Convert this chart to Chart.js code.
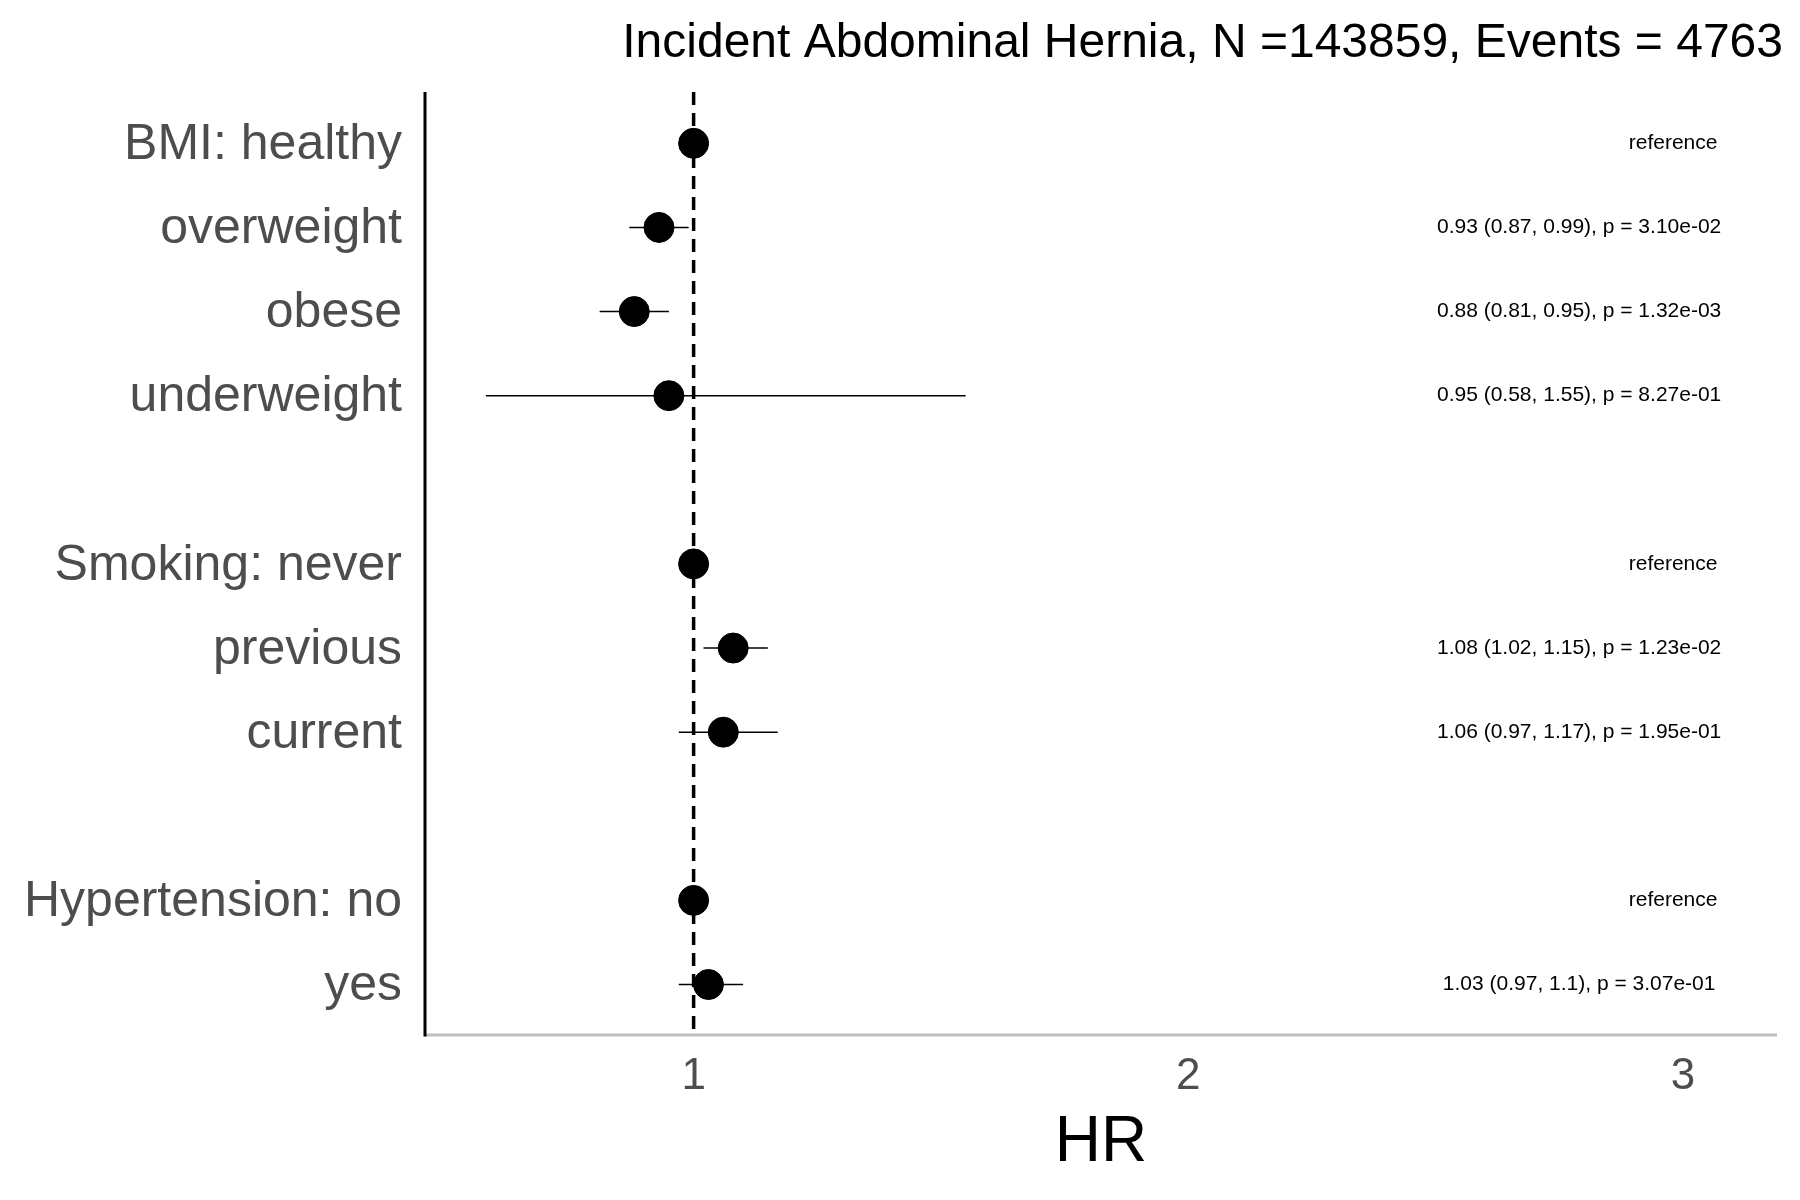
<!DOCTYPE html>
<html><head><meta charset="utf-8">
<script src="https://cdn.jsdelivr.net/npm/chart.js@4"></script>
<style>html,body{margin:0;background:#fff}</style></head>
<body><div style="width:1800px;height:1200px"><canvas id="c"></canvas></div>
<script>
const rowLabels = ["BMI: healthy","overweight","obese","underweight","Smoking: never","previous","current","Hypertension: no","yes"];
const rowPos = [1,2,3,4,6,7,8,10,11];
const hr = [1,0.93,0.88,0.95,1,1.08,1.06,1,1.03];
const lower = [null,0.87,0.81,0.58,null,1.02,0.97,null,0.97];
const upper = [null,0.99,0.95,1.55,null,1.15,1.17,null,1.10];
const annot = ["reference","0.93 (0.87, 0.99), p = 3.10e-02","0.88 (0.81, 0.95), p = 1.32e-03","0.95 (0.58, 1.55), p = 8.27e-01","reference","1.08 (1.02, 1.15), p = 1.23e-02","1.06 (0.97, 1.17), p = 1.95e-01","reference","1.03 (0.97, 1.1), p = 3.07e-01"];
const xTicks = [1,2,3];
const title = "Incident Abdominal Hernia, N =143859, Events = 4763";
const F = "'Liberation Sans', Arial, sans-serif";

const deco = {
  id:'deco',
  beforeDatasetsDraw(ch){
    const c=ch.ctx, xs=ch.scales.x, ys=ch.scales.y, a=ch.chartArea;
    c.save();
    c.strokeStyle='#bebebe'; c.lineWidth=3;
    c.beginPath(); c.moveTo(a.left,a.bottom); c.lineTo(a.right,a.bottom); c.stroke();
    c.strokeStyle='#000';
    c.beginPath(); c.moveTo(a.left,a.top); c.lineTo(a.left,a.bottom+1.5); c.stroke();
    c.setLineDash([13,8]); c.lineWidth=3.5;
    const x1=xs.getPixelForValue(1);
    c.beginPath(); c.moveTo(x1,a.top); c.lineTo(x1,a.bottom); c.stroke();
    c.setLineDash([]);
    c.lineWidth=1.5;
    rowPos.forEach((p,i)=>{
      if(lower[i]==null) return;
      const y=ys.getPixelForValue(p);
      c.beginPath(); c.moveTo(xs.getPixelForValue(lower[i]),y); c.lineTo(xs.getPixelForValue(upper[i]),y); c.stroke();
    });
    c.fillStyle='#4d4d4d'; c.font='50px '+F; c.textAlign='right'; c.textBaseline='middle';
    rowPos.forEach((p,i)=>c.fillText(rowLabels[i],a.left-23,ys.getPixelForValue(p)+2));
    c.textAlign='center'; c.textBaseline='top'; c.font='44px '+F;
    xTicks.forEach(t=>c.fillText(String(t),xs.getPixelForValue(t),a.bottom+20));
    c.fillStyle='#000'; c.font='64px '+F;
    c.fillText('HR',(a.left+a.right)/2,a.bottom+76);
    c.font='48px '+F; c.textAlign='right'; c.textBaseline='middle';
    c.fillText(title,1783,44);
    c.font='21px '+F; c.textAlign='center';
    rowPos.forEach((p,i)=>{
      const xc = annot[i]==='reference'?2.98:2.79;
      c.fillText(annot[i],xs.getPixelForValue(xc),ys.getPixelForValue(p));
    });
    c.restore();
  }
};

new Chart(document.getElementById('c'),{
  type:'scatter',
  data:{datasets:[{data:rowPos.map((p,i)=>({x:hr[i],y:p})),pointRadius:15,pointHoverRadius:15,backgroundColor:'#000',borderColor:'#000'}]},
  options:{
    responsive:true,maintainAspectRatio:false,animation:false,devicePixelRatio:1,
    layout:{padding:{left:425,right:23,top:92,bottom:165}},
    plugins:{legend:{display:false},tooltip:{enabled:false}},
    scales:{
      x:{type:'linear',display:false,min:0.457,max:3.19},
      y:{type:'linear',display:false,reverse:true,min:0.39,max:11.6}
    }
  },
  plugins:[deco]
});
</script></body></html>
